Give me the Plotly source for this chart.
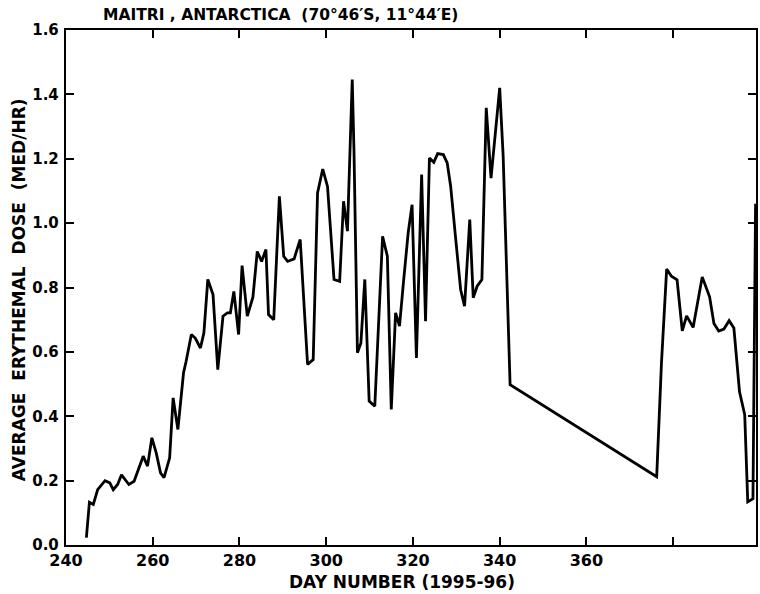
import plotly.graph_objects as go

# Day number (1995-96) and average erythemal dose (MED/HR)
days = [244.7, 245.4, 246.3, 247.3, 249.0, 250.1, 250.9, 251.9, 252.8, 254.5,
        255.7, 257.0, 257.8, 258.8, 259.8, 260.8, 261.8, 262.6, 263.9, 264.7,
        265.8, 267.1, 267.7, 268.9, 269.8, 271.0, 271.8, 272.7, 273.9, 275.0,
        276.2, 277.2, 277.9, 278.7, 279.8, 280.6, 281.8, 283.1, 284.1, 285.1,
        286.1, 286.7, 287.9, 289.2, 290.2, 291.1, 292.6, 294.0, 295.7, 297.0,
        298.0, 299.2, 300.3, 301.8, 303.1, 304.0, 304.9, 306.0, 306.4, 307.2,
        308.0, 308.9, 309.9, 311.2, 313.0, 314.1, 315.0, 316.0, 316.9, 317.8,
        318.9, 319.8, 320.8, 322.0, 322.9, 323.8, 324.8, 325.7, 327.0, 327.9,
        328.7, 329.8, 331.0, 331.9, 333.1, 333.9, 334.8, 335.9, 336.9, 338.0,
        340.0, 340.8, 342.4, 376.2, 377.3, 378.5, 379.6, 380.9, 382.1, 383.1,
        384.6, 386.7, 388.4, 389.4, 390.5, 391.7, 392.9, 394.0, 395.3, 396.5,
        397.2, 398.4, 399.0]
dose = [0.023, 0.133, 0.126, 0.172, 0.200, 0.193, 0.172, 0.188, 0.218, 0.188,
        0.198, 0.243, 0.276, 0.245, 0.333, 0.286, 0.224, 0.209, 0.271, 0.457,
        0.359, 0.535, 0.571, 0.654, 0.643, 0.612, 0.659, 0.825, 0.778, 0.545,
        0.711, 0.721, 0.721, 0.788, 0.654, 0.868, 0.711, 0.770, 0.912, 0.881,
        0.918, 0.716, 0.700, 1.083, 0.897, 0.881, 0.889, 0.949, 0.561, 0.576,
        1.094, 1.168, 1.114, 0.825, 0.819, 1.068, 0.975, 1.446, 1.228, 0.597,
        0.628, 0.825, 0.447, 0.431, 0.959, 0.897, 0.421, 0.721, 0.680, 0.814,
        0.970, 1.057, 0.581, 1.151, 0.695, 1.202, 1.189, 1.216, 1.213, 1.187,
        1.114, 0.959, 0.793, 0.742, 1.011, 0.768, 0.804, 0.825, 1.358, 1.140,
        1.420, 1.208, 0.498, 0.212, 0.565, 0.857, 0.835, 0.824, 0.665, 0.712,
        0.676, 0.833, 0.771, 0.688, 0.665, 0.671, 0.697, 0.674, 0.476, 0.405,
        0.134, 0.144, 1.060]

x_ticks = [240, 260, 280, 300, 320, 340, 360, 380]
x_labels = ["240", "260", "280", "300", "320", "340", "360", ""]
y_ticks = [0.0, 0.2, 0.4, 0.6, 0.8, 1.0, 1.2, 1.4, 1.6]
y_labels = ["0.0", "0.2", "0.4", "0.6", "0.8", "1.0", "1.2", "1.4", "1.6"]

title_text = "MAITRI , ANTARCTICA  (70°46′S, 11°44′E)"
x_title = "DAY NUMBER (1995-96)"
y_title = "AVERAGE  ERYTHEMAL  DOSE  (MED/HR)"

FONT = "DejaVu Sans"

fig = go.Figure()
fig.add_trace(go.Scatter(x=days, y=dose, mode="lines",
                         line=dict(color="black", width=2.8),
                         showlegend=False, hoverinfo="skip"))

fig.update_layout(
    width=760, height=594,
    margin=dict(l=66, r=2, t=30, b=49),
    paper_bgcolor="white", plot_bgcolor="white",
    font=dict(family=FONT, color="black"),
    xaxis=dict(range=[240, 399.1], tickvals=x_ticks, ticktext=x_labels,
               ticks="inside", ticklen=8, tickwidth=1.6, tickcolor="black",
               showline=True, linecolor="black", linewidth=2, mirror="ticks",
               showgrid=False, zeroline=False,
               tickfont=dict(family=FONT, size=16, color="black", weight="bold")),
    yaxis=dict(range=[0, 1.6], tickvals=y_ticks, ticktext=y_labels,
               ticks="inside", ticklen=8, tickwidth=1.6, tickcolor="black",
               showline=True, linecolor="black", linewidth=2.4, mirror="ticks",
               showgrid=False, zeroline=False, ticklabelstandoff=2,
               tickfont=dict(family=FONT, size=15, color="black", weight="bold")),
    annotations=[
        dict(text=title_text, xref="paper", yref="paper", x=0.311, y=1.029,
             xanchor="center", yanchor="middle", showarrow=False,
             font=dict(family=FONT, size=15.5, color="black", weight="bold")),
        dict(text=x_title, xref="paper", yref="paper", x=0.487, y=-0.072,
             xanchor="center", yanchor="middle", showarrow=False,
             font=dict(family=FONT, size=17, color="black", weight="bold")),
        dict(text=y_title, xref="paper", yref="paper", x=-0.068, y=0.495,
             xanchor="center", yanchor="middle", showarrow=False, textangle=-90,
             font=dict(family=FONT, size=17, color="black", weight="bold")),
    ],
)

fig.write_html("out.html")
